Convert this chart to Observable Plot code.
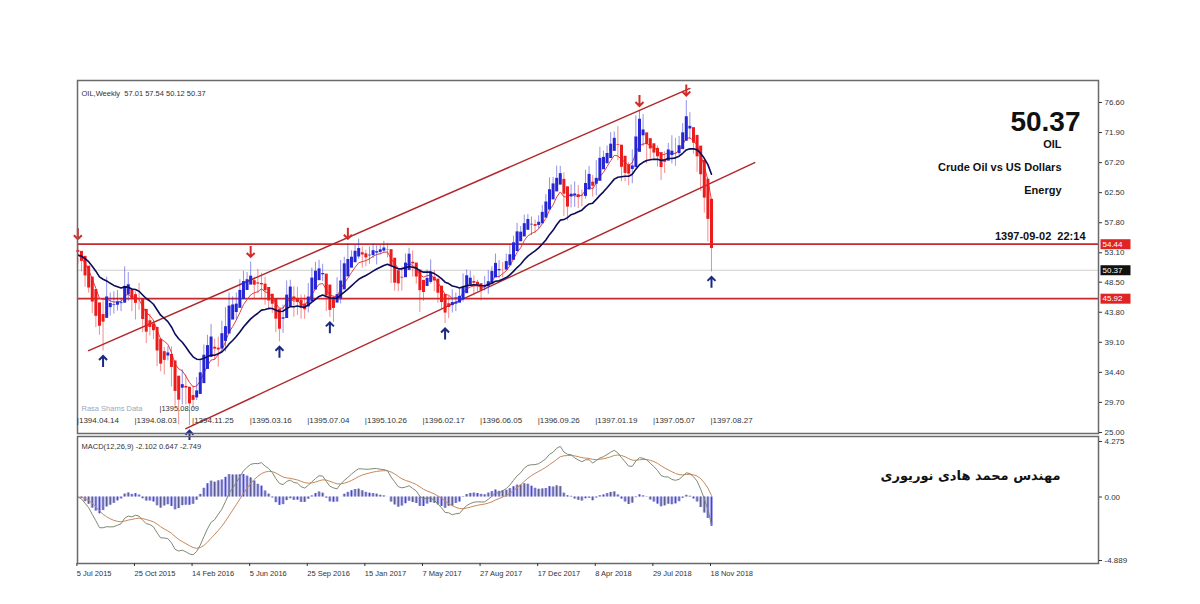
<!DOCTYPE html>
<html><head><meta charset="utf-8">
<script src="https://cdn.jsdelivr.net/npm/d3@7"></script>
<script src="https://cdn.jsdelivr.net/npm/@observablehq/plot@0.6"></script>
<style>
body{margin:0;background:#fff;width:1200px;height:604px;overflow:hidden;position:relative;font-family:"Liberation Sans",Arial,sans-serif;}
#main,#macd{position:absolute;left:0}
#main{top:0}#macd{top:430px}
</style></head><body>
<div id="main"></div><div id="macd"></div>
<script>
// ---- data (weekly OIL bars, week starting 5 Jul 2015) ----
const startDate = "2015-07-05";
const firstOpen = 54.2;
const highs = [54.44,53.3,51.2,48.3,47.0,44.9,43.3,45.6,49.3,46.8,
 47.0,47.2,46.0,50.9,50.0,47.4,47.0,48.3,45.0,42.7,
 43.5,42.5,40.1,37.9,38.3,38.4,38.4,34.0,32.4,34.8,
 34.0,31.5,32.3,33.6,36.2,38.7,40.2,41.9,39.6,39.9,
 42.4,44.5,46.8,46.2,46.8,48.9,50.2,50.0,51.67,49.3,
 50.5,49.9,49.3,46.8,46.5,44.5,42.0,44.9,48.7,48.8,
 47.8,47.7,46.5,46.5,48.3,50.7,51.6,51.93,51.3,48.7,
 45.9,46.3,49.2,51.9,52.4,54.5,53.4,54.3,55.24,54.0,
 53.5,54.0,54.5,54.2,54.2,54.9,54.6,53.6,49.0,49.2,
 50.9,52.9,53.8,53.4,50.1,49.4,48.0,50.4,52.0,50.3,
 48.4,46.4,44.9,46.3,47.3,46.8,47.4,49.8,50.4,50.2,
 49.5,48.8,48.1,49.4,50.3,50.9,52.9,51.9,51.6,52.9,
 54.2,55.7,57.7,57.2,59.0,59.1,58.7,58.2,58.9,60.5,
 62.2,64.8,64.9,66.66,66.6,65.6,62.0,63.7,64.2,63.6,
 62.9,66.0,66.6,65.2,67.5,69.6,69.0,69.8,71.9,72.0,
 72.83,68.0,66.3,67.2,69.2,74.5,75.27,74.7,71.7,70.5,
 70.0,69.8,67.8,68.9,70.2,71.4,71.0,71.3,73.3,76.90,
 75.0,72.0,70.0,67.8,64.0,61.3,57.54];
const lows = [51.3,50.1,47.7,46.8,43.6,41.4,40.2,37.75,44.2,43.2,
 43.5,44.0,43.9,45.3,45.5,43.9,42.6,44.1,40.6,38.9,
 40.1,39.5,35.3,34.5,33.98,36.2,32.1,29.1,26.2,29.3,
 29.3,26.05,28.7,30.0,32.4,35.2,36.2,38.9,36.3,35.2,
 39.3,37.6,42.6,43.0,42.6,46.0,47.1,47.6,48.4,45.8,
 46.7,45.8,44.9,44.1,43.6,40.6,39.19,40.5,44.2,46.0,
 43.0,43.3,42.7,42.7,43.7,47.8,49.1,49.2,48.6,43.9,
 43.0,42.2,45.3,45.1,49.9,50.3,51.3,52.3,52.1,50.7,
 50.9,51.3,52.2,51.2,52.8,53.1,52.3,48.3,47.1,47.0,
 47.1,50.2,52.3,49.3,48.2,43.76,45.5,47.8,48.2,47.0,
 45.2,44.3,42.05,42.8,43.7,43.9,45.4,45.4,48.3,47.9,
 46.5,47.0,45.6,47.1,46.6,49.2,50.5,49.1,49.2,50.7,
 51.2,53.4,55.4,54.8,56.1,56.8,55.8,56.1,56.8,58.3,
 60.1,61.3,62.9,62.8,63.7,58.8,58.1,60.1,60.2,60.0,
 60.3,61.5,64.0,61.8,62.0,66.1,66.6,66.9,68.0,70.0,
 67.5,64.2,64.2,63.6,63.9,67.6,72.7,69.7,67.0,67.7,
 67.6,66.5,64.4,65.5,68.0,67.0,66.6,68.3,70.1,73.0,
 70.8,68.5,65.7,62.7,59.3,54.8,50.12];
const closes = [52.74,50.89,48.14,47.12,43.87,42.50,40.45,45.22,46.05,44.63,
 44.68,45.70,45.54,49.63,47.26,44.60,46.59,44.29,40.74,40.39,
 41.71,39.97,35.62,34.73,38.10,37.04,33.16,29.42,32.19,33.62,
 30.89,29.44,29.64,32.78,35.92,38.50,39.44,39.46,36.79,39.72,
 40.36,43.73,45.92,44.66,46.21,47.75,49.33,48.62,49.07,47.98,
 47.64,48.99,45.41,45.95,44.19,41.60,41.80,44.49,48.52,47.64,
 44.44,45.88,43.03,44.48,48.24,49.81,50.35,50.85,48.70,44.07,
 43.41,45.69,46.06,51.68,51.50,51.90,53.02,53.72,53.99,52.37,
 52.42,53.17,53.83,53.86,53.40,53.99,53.33,48.49,48.78,47.97,
 50.60,52.24,53.18,49.62,49.33,46.22,47.84,50.33,49.80,47.66,
 45.83,44.74,43.01,46.04,44.23,46.54,45.77,49.71,49.58,48.82,
 48.51,47.87,47.29,47.48,49.89,50.66,51.67,49.29,51.45,51.84,
 53.90,55.64,56.74,56.55,58.95,58.36,57.36,57.30,58.47,60.42,
 61.44,64.30,63.37,66.14,65.45,59.20,61.68,63.55,61.25,62.04,
 62.34,65.88,64.94,62.06,67.39,68.38,68.10,69.72,70.70,71.28,
 67.88,65.81,65.74,65.06,68.58,74.15,73.80,71.01,70.46,68.69,
 68.49,67.63,65.91,68.72,69.80,67.75,68.99,70.78,73.25,74.34,
 71.34,69.12,67.59,63.14,60.19,57.01,50.37];

// fractal arrows (week indices)
const downArrowWeeks = [0, 48, 75, 156, 169];
const upArrowWeeks = [7, 31, 56, 70, 102, 176];
// horizontal levels
const levelLines = [54.44, 45.92];
const lastPrice = 50.37;
// channel lines: [week, price] pairs
const channelUpper = [[3, 37.8], [170, 78.8]];
const channelLower = [[30, 25.6], [188, 67.2]];
// axis tick labels
const priceTicks = [76.60, 71.90, 67.20, 62.50, 57.80, 53.10, 48.50, 43.80, 39.10, 34.40, 29.70, 25.00];
const macdTicks = [4.275, 0, -4.889];
const tickWeeks = [0,16,32,48,64,80,96,112,128,144,160,176];
const persianLabels = ["1394.04.14","1394.08.03","1394.11.25","1395.03.16","1395.07.04","1395.10.26","1396.02.17","1396.06.05","1396.09.26","1397.01.19","1397.05.07","1397.08.27"];
const gregLabels = ["5 Jul 2015","25 Oct 2015","14 Feb 2016","5 Jun 2016","25 Sep 2016","15 Jan 2017","7 May 2017","27 Aug 2017","17 Dec 2017","8 Apr 2018","29 Jul 2018","18 Nov 2018"];
const headerText = "OIL,Weekly\u00a0\u00a057.01 57.54 50.12 50.37";
const macdText = "MACD(12,26,9) -2.102 0.647 -2.749";
const infoLines = ["OIL", "Crude Oil vs US Dollars", "Energy"];
const bigPrice = "50.37";
const timeText = "1397-09-02\u00a0\u00a022:14";
const sourceText = "Rasa Shams Data";
const cursorDate = "|1395.08.09";
const authorText = "مهندس محمد هادی نوریوری";

// ---- derived ----
const t0 = new Date(startDate + "T00:00:00Z");
const wk = i => new Date(+t0 + i * 7 * 864e5);
function ema(arr, n){const a=2/(n+1);const o=[];arr.forEach((v,i)=>o.push(i?a*v+(1-a)*o[i-1]:v));return o;}
const emaFast = ema(closes, 8), emaSlow = ema(closes, 21);
const e12 = ema(closes, 12), e26 = ema(closes, 26);
const macdMain = e12.map((v,i)=>v-e26[i]);
const macdSig = ema(macdMain, 9);
const bars = closes.map((c,i)=>({date:wk(i), open: i?closes[i-1]:firstOpen, high:highs[i], low:lows[i], close:c,
  fast:emaFast[i], slow:emaSlow[i], main:macdMain[i], sig:macdSig[i], hist:macdMain[i]-macdSig[i]}));
bars[176].open = 57.01;
// Heiken Ashi bodies
bars.forEach((b,i)=>{
  b.haC = (b.open+b.high+b.low+b.close)/4;
  b.haO = i ? (bars[i-1].haO + bars[i-1].haC)/2 : (b.open+b.close)/2;
  b.col = b.haC >= b.haO ? "#2626d6" : "#ec1c1c";
});
const xDomain = [new Date(+t0 - 0.1*7*864e5), new Date(+t0 + 283.5*7*864e5)];
const W = 1200, ML = 77, MR = 102;
const font = '"Liberation Sans",Arial,sans-serif';

const arrowDown = {draw(c){c.moveTo(0,-7);c.lineTo(0,4);c.moveTo(-4,0);c.lineTo(0,4);c.lineTo(4,0);}};
const arrowUp = {draw(c){c.moveTo(0,7);c.lineTo(0,-4);c.moveTo(-4,0);c.lineTo(0,-4);c.lineTo(4,0);}};
const boxSym = {draw(c){c.rect(-15,-5,30,10);}};

const chanData = [...channelUpper.map(([w,p])=>({date:wk(w),price:p,k:"u"})), ...channelLower.map(([w,p])=>({date:wk(w),price:p,k:"l"}))];
const tickData = tickWeeks.map((w,i)=>({date:wk(w), p:persianLabels[i], g:gregLabels[i]}));

const main = Plot.plot({
  width: W, height: 440, marginTop: 80, marginBottom: 7, marginLeft: ML, marginRight: MR,
  x: {type:"utc", domain: xDomain, axis: null},
  y: {domain: [24.84, 80.04], axis: null},
  style: {fontFamily: font, fontSize: "8px", color:"#333", background:"transparent"},
  marks: [
    Plot.ruleY([lastPrice], {stroke:"#cfcfcf", strokeWidth:1}),
    Plot.ruleY(levelLines, {stroke:"#c42a2e", strokeWidth:1.8}),
    Plot.line(chanData, {x:"date", y:"price", z:"k", stroke:"#b0282c", strokeWidth:1.5}),
    Plot.line(bars, {x:"date", y:"fast", stroke:"#e04040", strokeWidth:1}),
    Plot.ruleX(bars, {x:"date", y1:"low", y2:"high", stroke:"col", strokeOpacity:0.5, strokeWidth:1}),
    Plot.ruleX(bars, {x:"date", y1:"haO", y2:"haC", stroke:"col", strokeWidth:3}),
    Plot.line(bars, {x:"date", y:"slow", stroke:"#0c0c5a", strokeWidth:1.6}),
    Plot.dot(downArrowWeeks.map(i=>bars[i]), {x:"date", y:"high", symbol: arrowDown, stroke:"#d42a2a", strokeWidth:2, fill:"none", dy:-9}),
    Plot.dot(upArrowWeeks.map(i=>bars[i]), {x:"date", y:"low", symbol: arrowUp, stroke:"#1a2a80", strokeWidth:2, fill:"none", dy:9}),
    Plot.frame({stroke:"#6a6a6a", strokeWidth:1.5}),
    Plot.axisY(priceTicks, {anchor:"right", tickSize:3, tickPadding:3, tickFormat:d=>d.toFixed(2), fontSize:8}),
    Plot.dot(levelLines, {y:d=>d, frameAnchor:"right", dx:17, symbol: boxSym, fill:"#e02424"}),
    Plot.text(levelLines, {y:d=>d, frameAnchor:"right", dx:4, textAnchor:"start", text:d=>d.toFixed(2), fill:"#fff", fontSize:8}),
    Plot.dot([lastPrice], {y:d=>d, frameAnchor:"right", dx:17, symbol: boxSym, fill:"#111"}),
    Plot.text([lastPrice], {y:d=>d, frameAnchor:"right", dx:4, textAnchor:"start", text:d=>d.toFixed(2), fill:"#fff", fontSize:8}),
    Plot.text(tickData, {x:"date", text:d=>"|"+d.p, frameAnchor:"bottom", dy:-11, textAnchor:"start", dx:-1, fontSize:8}),
    Plot.text([headerText], {frameAnchor:"top-left", dx:4, dy:10, textAnchor:"start", fontSize:7.5}),
    Plot.text([sourceText], {frameAnchor:"bottom-left", dx:4, dy:-23, textAnchor:"start", fontSize:7.5, fill:"#9ab"}),
    Plot.text([cursorDate], {frameAnchor:"bottom-left", dx:82, dy:-23, textAnchor:"start", fontSize:7.5, fill:"#333"}),
    Plot.text([bigPrice], {frameAnchor:"top-right", dx:-18, dy:31, textAnchor:"end", fontSize:28, fontWeight:"bold", fill:"#111"}),
    Plot.text(infoLines, {frameAnchor:"top-right", textAnchor:"end", fontSize:11, fontWeight:"bold", fill:"#111",
      render:(index, scales, values, dims, ctx, next) => { const g = next(index, scales, values, dims, ctx); d3.select(g).selectAll("text").attr("transform", (d,i)=>`translate(${dims.width-dims.marginRight-37},${dims.marginTop+60+i*23})`); return g; }}),
    Plot.text([timeText], {frameAnchor:"top-right", dx:-13, dy:152, textAnchor:"end", fontSize:11, fontWeight:"bold", fill:"#111"})
  ]
});
document.getElementById("main").append(main);

const macd = Plot.plot({
  width: W, height: 174, marginTop: 6, marginBottom: 41, marginLeft: ML, marginRight: MR,
  x: {type:"utc", domain: xDomain, axis: null},
  y: {domain: [-5.12, 4.66], axis: null},
  style: {fontFamily: font, fontSize: "8px", color:"#333", background:"transparent"},
  marks: [
    Plot.ruleX(bars, {x:"date", y1:0, y2:"hist", stroke:"#a4a4f2", strokeWidth:3}),
    Plot.ruleX(bars, {x:"date", y1:0, y2:"hist", stroke:"#3a3a5a", strokeWidth:0.8}),
    Plot.line(bars, {x:"date", y:"sig", stroke:"#c8885a", strokeWidth:1}),
    Plot.line(bars, {x:"date", y:"main", stroke:"#7f8a72", strokeWidth:1}),
    Plot.frame({stroke:"#6a6a6a", strokeWidth:1.5}),
    Plot.axisY(macdTicks, {anchor:"right", tickSize:3, tickPadding:3, tickFormat:d=>d===0?"0.00":String(d), fontSize:8}),
    Plot.axisX(tickData.map(d=>d.date), {anchor:"bottom", tickSize:3, tickPadding:4, textAnchor:"start", dx:-1, fontSize:7.5,
      tickFormat: d => tickData.find(t=>+t.date===+d).g}),
    Plot.text([macdText], {frameAnchor:"top-left", dx:4, dy:7, textAnchor:"start", fontSize:7.5}),
    Plot.text([authorText], {frameAnchor:"top-right", dx:-128, dy:34, textAnchor:"middle", fontSize:13, fontWeight:"bold", fill:"#111", fontFamily:"'DejaVu Sans',sans-serif"})
  ]
});
document.getElementById("macd").append(macd);
</script>
</body></html>
